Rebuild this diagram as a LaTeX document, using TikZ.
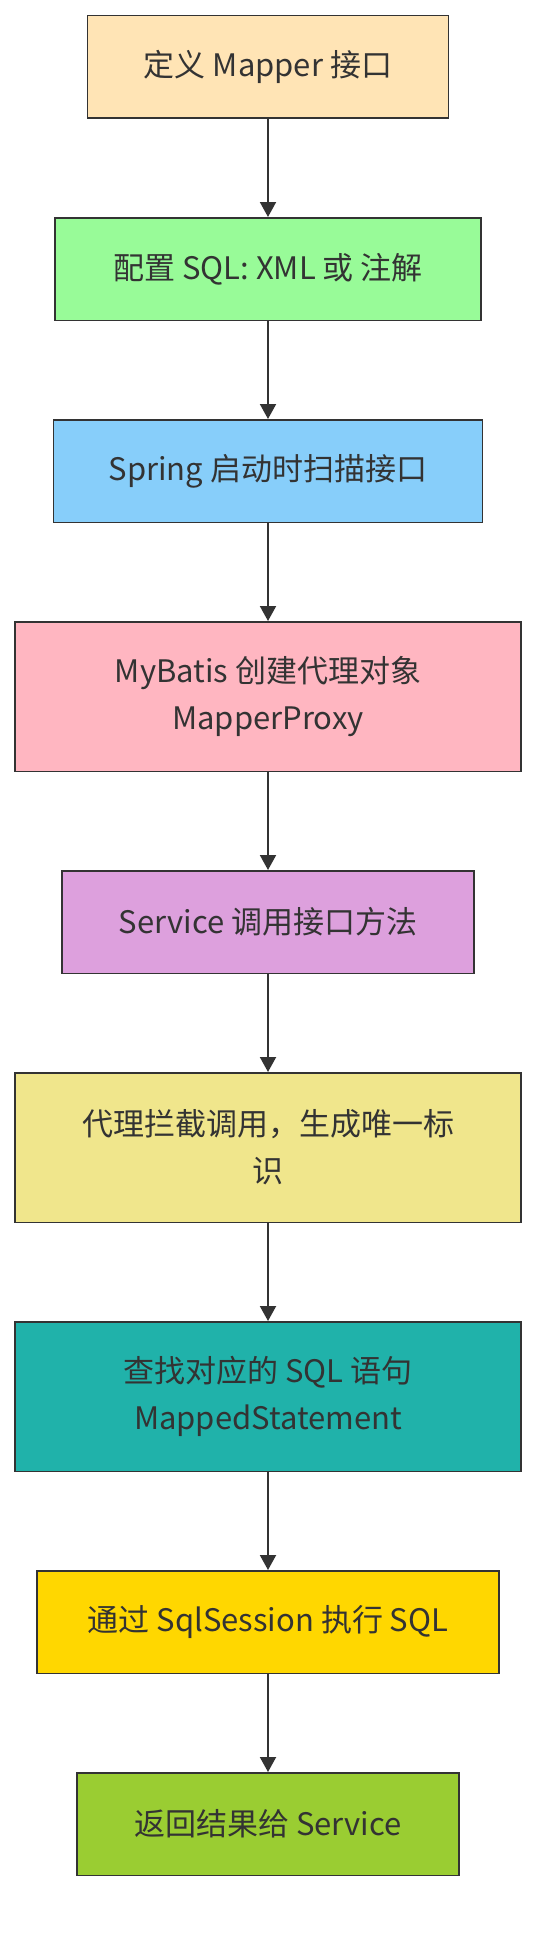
\documentclass[tikz,border=0pt]{standalone}
\usepackage{fontspec}
\setmainfont{Noto Sans CJK SC}
\usepackage{tikz}
\usetikzlibrary{positioning}
\usetikzlibrary{arrows.meta}
\definecolor{ink}{HTML}{333333}
\definecolor{moccasin}{HTML}{FFE4B5}
\definecolor{palegreen}{HTML}{98FB98}
\definecolor{skyblue}{HTML}{87CEFA}
\definecolor{pinkish}{HTML}{FFB6C1}
\definecolor{plum}{HTML}{DDA0DD}
\definecolor{khaki}{HTML}{F0E68C}
\definecolor{seagreen}{HTML}{20B2AA}
\definecolor{gold}{HTML}{FFD700}
\definecolor{yellowgreen}{HTML}{9ACD32}
\tikzset{
	node distance = 98pt,
	step box/.style = {rectangle, draw=ink, line width=1.5pt, text=ink,
		minimum height=102.5pt, align=center,
		font=\fontsize{31}{47}\selectfont},
	tall box/.style = {step box, minimum height=149.5pt},
	flow/.style = {-{Triangle[width=16pt,length=15pt]}, draw=ink, line width=2pt},
}
\begin{document}
\begin{tikzpicture}[x=1pt, y=-1pt]
	\useasboundingbox (0,0) rectangle (552,1948);
	\node (define) [step box, fill=moccasin, minimum width=361pt] at (268,67) {定义 Mapper 接口};
	\node (config) [step box, fill=palegreen, minimum width=426pt, below = of define] {配置 SQL: XML 或 注解};
	\node (scan) [step box, fill=skyblue, minimum width=429pt, below = of config] {Spring 启动时扫描接口};
	\node (proxy) [tall box, fill=pinkish, minimum width=506pt, below = of scan] {MyBatis 创建代理对象\\MapperProxy};
	\node (call) [step box, fill=plum, minimum width=412pt, below = of proxy] {Service 调用接口方法};
	\node (intercept) [tall box, fill=khaki, minimum width=506pt, below = of call] {代理拦截调用，生成唯一标\\识};
	\node (lookup) [tall box, fill=seagreen, minimum width=506pt, below = of intercept] {查找对应的 SQL 语句\\MappedStatement};
	\node (execute) [step box, fill=gold, minimum width=462pt, below = of lookup] {通过 SqlSession 执行 SQL};
	\node (result) [step box, fill=yellowgreen, minimum width=382pt, below = of execute] {返回结果给 Service};
	\path (define) edge[flow] (config);
	\path (config) edge[flow] (scan);
	\path (scan) edge[flow] (proxy);
	\path (proxy) edge[flow] (call);
	\path (call) edge[flow] (intercept);
	\path (intercept) edge[flow] (lookup);
	\path (lookup) edge[flow] (execute);
	\path (execute) edge[flow] (result);
\end{tikzpicture}
\end{document}
